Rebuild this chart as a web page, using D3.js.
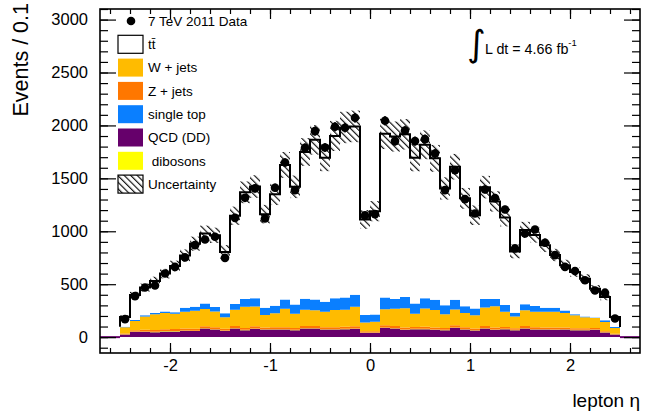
<!DOCTYPE html>
<html><head><meta charset="utf-8">
<script src="https://cdn.jsdelivr.net/npm/d3@7"></script>
<style>
body{margin:0;background:#fff}
svg{display:block}
text{font-family:"Liberation Sans",Arial,Helvetica,sans-serif;fill:#000}
</style>
</head><body><svg id="c" width="653" height="417"></svg>
<script>
// ---- data: lepton eta, bins of 0.1 ----
const binEdges = [-2.5,-2.4,-2.3,-2.2,-2.1,-2.0,-1.9,-1.8,-1.7,-1.6,-1.5,-1.4,-1.3,-1.2,-1.1,-1.0,-0.9,-0.8,-0.7,-0.6,-0.5,-0.4,-0.3,-0.2,-0.1,0.0,
  0.1,0.2,0.3,0.4,0.5,0.6,0.7,0.8,0.9,1.0,1.1,1.2,1.3,1.4,1.5,1.6,1.7,1.8,1.9,2.0,2.1,2.2,2.3,2.4,2.5];
const dataCounts = [170,387,469,488,601,664,753,869,923,948,749,1127,1316,1405,1121,1411,1650,1389,1789,1946,1792,1987,1978,2072,1150,1162,
  2044,1852,1952,1852,1871,1735,1389,1578,1304,1168,1395,1313,1206,838,979,1017,891,775,664,624,538,440,420,176];
const qcd = [25,50,50,47,54,54,60,57,82,72,60,82,66,79,72,72,72,66,82,82,72,72,75,79,41,41,88,82,69,75,75,69,66,88,72,63,82,69,75,66,82,72,72,69,72,66,66,69,44,25];
const dibosons = [1,2,3,3,3,3,3,3,3,3,3,3,3,3,3,3,3,3,3,3,3,3,3,3,2,2,3,3,3,3,3,3,3,3,3,3,3,3,3,3,3,3,3,3,3,3,3,3,2,1];
const zjets = [8,12,16,18,17,19,18,20,17,19,16,21,18,20,17,18,19,17,21,20,18,19,20,21,12,12,20,19,18,17,20,18,17,21,18,16,20,19,18,15,19,18,17,18,17,16,15,14,10,7];
const wjets = [60,89,125,147,154,144,159,169,163,147,109,153,200,187,116,132,173,135,153,150,147,163,160,184,84,90,153,163,182,126,173,166,131,150,135,125,175,201,144,112,150,147,147,150,135,122,103,94,87,54];
const singleTop = [3,8,13,13,15,15,38,37,53,44,38,54,73,79,69,72,88,88,104,101,95,110,117,114,69,69,111,94,107,97,97,98,85,92,63,63,79,69,63,35,57,54,38,38,25,9,9,6,16,9];
const ttbar = [93,236,261,303,357,437,493,597,662,677,579,834,1008,1055,885,1052,1272,1111,1386,1508,1360,1534,1606,1590,904,976,1546,1534,1537,1376,1449,1335,1103,1256,1020,882,1058,921,828,579,702,671,592,498,428,400,356,271,220,95];
const uncRel = [0.09,0.08,0.08,0.075,0.075,0.075,0.075,0.075,0.075,0.075,0.08,0.075,0.075,0.075,0.075,0.075,0.075,0.075,0.075,0.075,0.075,0.075,0.075,0.075,0.08,0.08,
  0.075,0.075,0.075,0.075,0.075,0.075,0.075,0.075,0.075,0.08,0.075,0.075,0.075,0.08,0.075,0.075,0.075,0.075,0.075,0.075,0.075,0.075,0.08,0.09];
const xTicksMajor = [-2,-1,0,1,2];
const yTicksMajor = [0,500,1000,1500,2000,2500,3000];
const legendLabels = ["7 TeV 2011 Data","t\u0074\u0304","W + jets","Z + jets","single top","QCD (DD)"," dibosons","Uncertainty"];

// ---- setup ----
const svg = d3.select("#c");
svg.append("rect").attr("width",653).attr("height",417).attr("fill","#fff");
const x = d3.scaleLinear().domain([-2.7,2.7]).range([100,640]);
const y = d3.scaleLinear().domain([-150,3100]).range([353,9]);
const nb = dataCounts.length;

const defs = svg.append("defs");
const pat = defs.append("pattern").attr("id","hatch").attr("patternUnits","userSpaceOnUse")
  .attr("width",4.6).attr("height",4.6).attr("patternTransform","rotate(-45)");
pat.append("line").attr("x1",0.6).attr("y1",0).attr("x2",0.6).attr("y2",4.6).attr("stroke","#000").attr("stroke-width",1.1);
defs.append("clipPath").attr("id","frame").append("rect").attr("x",100).attr("y",9).attr("width",540).attr("height",344);

const plot = svg.append("g").attr("clip-path","url(#frame)");

// stack layers bottom -> top
const layers = [
  {v:qcd, c:"#66006b"},
  {v:dibosons, c:"#ffff00"},
  {v:zjets, c:"#ff7700"},
  {v:wjets, c:"#ffbb00"},
  {v:singleTop, c:"#0a7fff"},
  {v:ttbar, c:"#ffffff"}
];
let lower = new Array(nb).fill(0);
const cums = [];
layers.forEach(L => {
  const upper = lower.map((b,i)=>b+L.v[i]);
  cums.push({lower:lower.slice(), upper:upper, c:L.c});
  lower = upper;
});
const total = lower;

function stepPts(lo, up){
  const pts=[];
  for(let i=0;i<nb;i++){
    pts.push({x:binEdges[i], y0:lo[i], y1:up[i]});
    pts.push({x:binEdges[i+1], y0:lo[i], y1:up[i]});
  }
  return pts;
}
const area = d3.area().x(d=>x(d.x)).y0(d=>y(d.y0)).y1(d=>y(d.y1));
cums.forEach(L=>{
  plot.append("path").attr("d",area(stepPts(L.lower,L.upper))).attr("fill",L.c).attr("stroke","none");
});

// zero lines outside range (QCD outline)
plot.append("line").attr("x1",x(-2.7)).attr("x2",x(-2.5)).attr("y1",y(0)).attr("y2",y(0)).attr("stroke","#66006b").attr("stroke-width",2);
plot.append("line").attr("x1",x(2.5)).attr("x2",x(2.7)).attr("y1",y(0)).attr("y2",y(0)).attr("stroke","#66006b").attr("stroke-width",2);

// uncertainty band
for(let i=0;i<nb;i++){
  const lo = total[i]*(1-uncRel[i]), hi = total[i]*(1+uncRel[i]);
  plot.append("rect").attr("x",x(binEdges[i])).attr("width",x(binEdges[i+1])-x(binEdges[i]))
    .attr("y",y(hi)).attr("height",y(lo)-y(hi)).attr("fill","url(#hatch)");
}

// total MC outline
const sub = cums[5].lower;
let pts = [[x(binEdges[0]), y(sub[0])]];
for(let i=0;i<nb;i++){ pts.push([x(binEdges[i]),y(total[i])]); pts.push([x(binEdges[i+1]),y(total[i])]); }
pts.push([x(binEdges[nb]), y(sub[nb-1])]);
plot.append("path").attr("d",d3.line()(pts)).attr("fill","none").attr("stroke","#000").attr("stroke-width",2);

// data
const centers = dataCounts.map((d,i)=>(binEdges[i]+binEdges[i+1])/2);
const dg = plot.append("g");
dataCounts.forEach((d,i)=>{
  const e = Math.sqrt(d);
  dg.append("line").attr("x1",x(centers[i])).attr("x2",x(centers[i])).attr("y1",y(d-e)).attr("y2",y(d+e)).attr("stroke","#000").attr("stroke-width",1.5);
  dg.append("circle").attr("cx",x(centers[i])).attr("cy",y(d)).attr("r",4.3).attr("fill","#000");
});

// ---- axes ----
const fmt = d => d<0 ? "-"+Math.abs(d) : String(d);
const xMinor = d3.range(-26,27,2).map(v=>v/10);
const yMinor = d3.range(-100,3101,100);
function styleAxis(g){ g.select(".domain").remove(); g.selectAll("line").attr("stroke","#000").attr("stroke-width",1.2); }

svg.append("g").attr("transform","translate(0,353)").call(d3.axisBottom(x).tickValues(xMinor).tickSize(-5).tickFormat("")).call(styleAxis);
svg.append("g").attr("transform","translate(0,353)").call(d3.axisBottom(x).tickValues(xTicksMajor).tickSize(-10).tickPadding(6).tickFormat(fmt))
  .call(styleAxis).call(g=>g.selectAll("text").attr("font-size",16.5).attr("fill","#000"));
svg.append("g").attr("transform","translate(0,9)").call(d3.axisTop(x).tickValues(xMinor).tickSize(-5).tickFormat("")).call(styleAxis);
svg.append("g").attr("transform","translate(0,9)").call(d3.axisTop(x).tickValues(xTicksMajor).tickSize(-10).tickFormat("")).call(styleAxis);

svg.append("g").attr("transform","translate(100,0)").call(d3.axisLeft(y).tickValues(yMinor).tickSize(-8).tickFormat("")).call(styleAxis);
svg.append("g").attr("transform","translate(100,0)").call(d3.axisLeft(y).tickValues(yTicksMajor).tickSize(-16).tickPadding(12).tickFormat(fmt))
  .call(styleAxis).call(g=>g.selectAll("text").attr("font-size",16.5).attr("fill","#000"));
svg.append("g").attr("transform","translate(640,0)").call(d3.axisRight(y).tickValues(yMinor).tickSize(-8).tickFormat("")).call(styleAxis);
svg.append("g").attr("transform","translate(640,0)").call(d3.axisRight(y).tickValues(yTicksMajor).tickSize(-16).tickFormat("")).call(styleAxis);

svg.append("rect").attr("x",100).attr("y",9).attr("width",540).attr("height",344).attr("fill","none").attr("stroke","#000").attr("stroke-width",1.6);

// axis titles
svg.append("text").attr("transform","translate(28,3) rotate(-90)").attr("text-anchor","end").attr("font-size",21.5).text("Events / 0.1");
svg.append("text").attr("x",640).attr("y",407).attr("text-anchor","end").attr("font-size",19).text("lepton \u03b7");

// ---- legend ----
const lg = svg.append("g");
const ly0 = 21, ldy = 23.3;
legendLabels.forEach((t,k)=>{
  const cy = ly0 + ldy*k;
  lg.append("text").attr("x",148).attr("y",cy+4.8).attr("font-size",13.5).attr("xml:space","preserve").text(t);
  if(k===0){
    lg.append("circle").attr("cx",131).attr("cy",cy).attr("r",4.3).attr("fill","#000");
    return;
  }
  const box = lg.append("rect").attr("x",118).attr("y",cy-9).attr("width",25).attr("height",18);
  if(k===1) box.attr("fill","#fff").attr("stroke","#000").attr("stroke-width",1.2);
  else if(k===7) box.attr("fill","url(#hatch)").attr("stroke","#000").attr("stroke-width",1.2);
  else {
    const col = {2:"#ffbb00",3:"#ff7700",4:"#0a7fff",5:"#66006b",6:"#ffff00"}[k];
    box.attr("fill",col);
  }
});

// luminosity
svg.append("text").attr("x",467).attr("y",56).attr("font-size",36).style("font-family","'DejaVu Sans'").text("\u222b");
const lt = svg.append("text").attr("x",485).attr("y",54).attr("font-size",14.3);
lt.append("tspan").text("L dt = 4.66 fb");
lt.append("tspan").attr("dy",-8).attr("font-size",9.5).text("-1");
</script></body></html>
